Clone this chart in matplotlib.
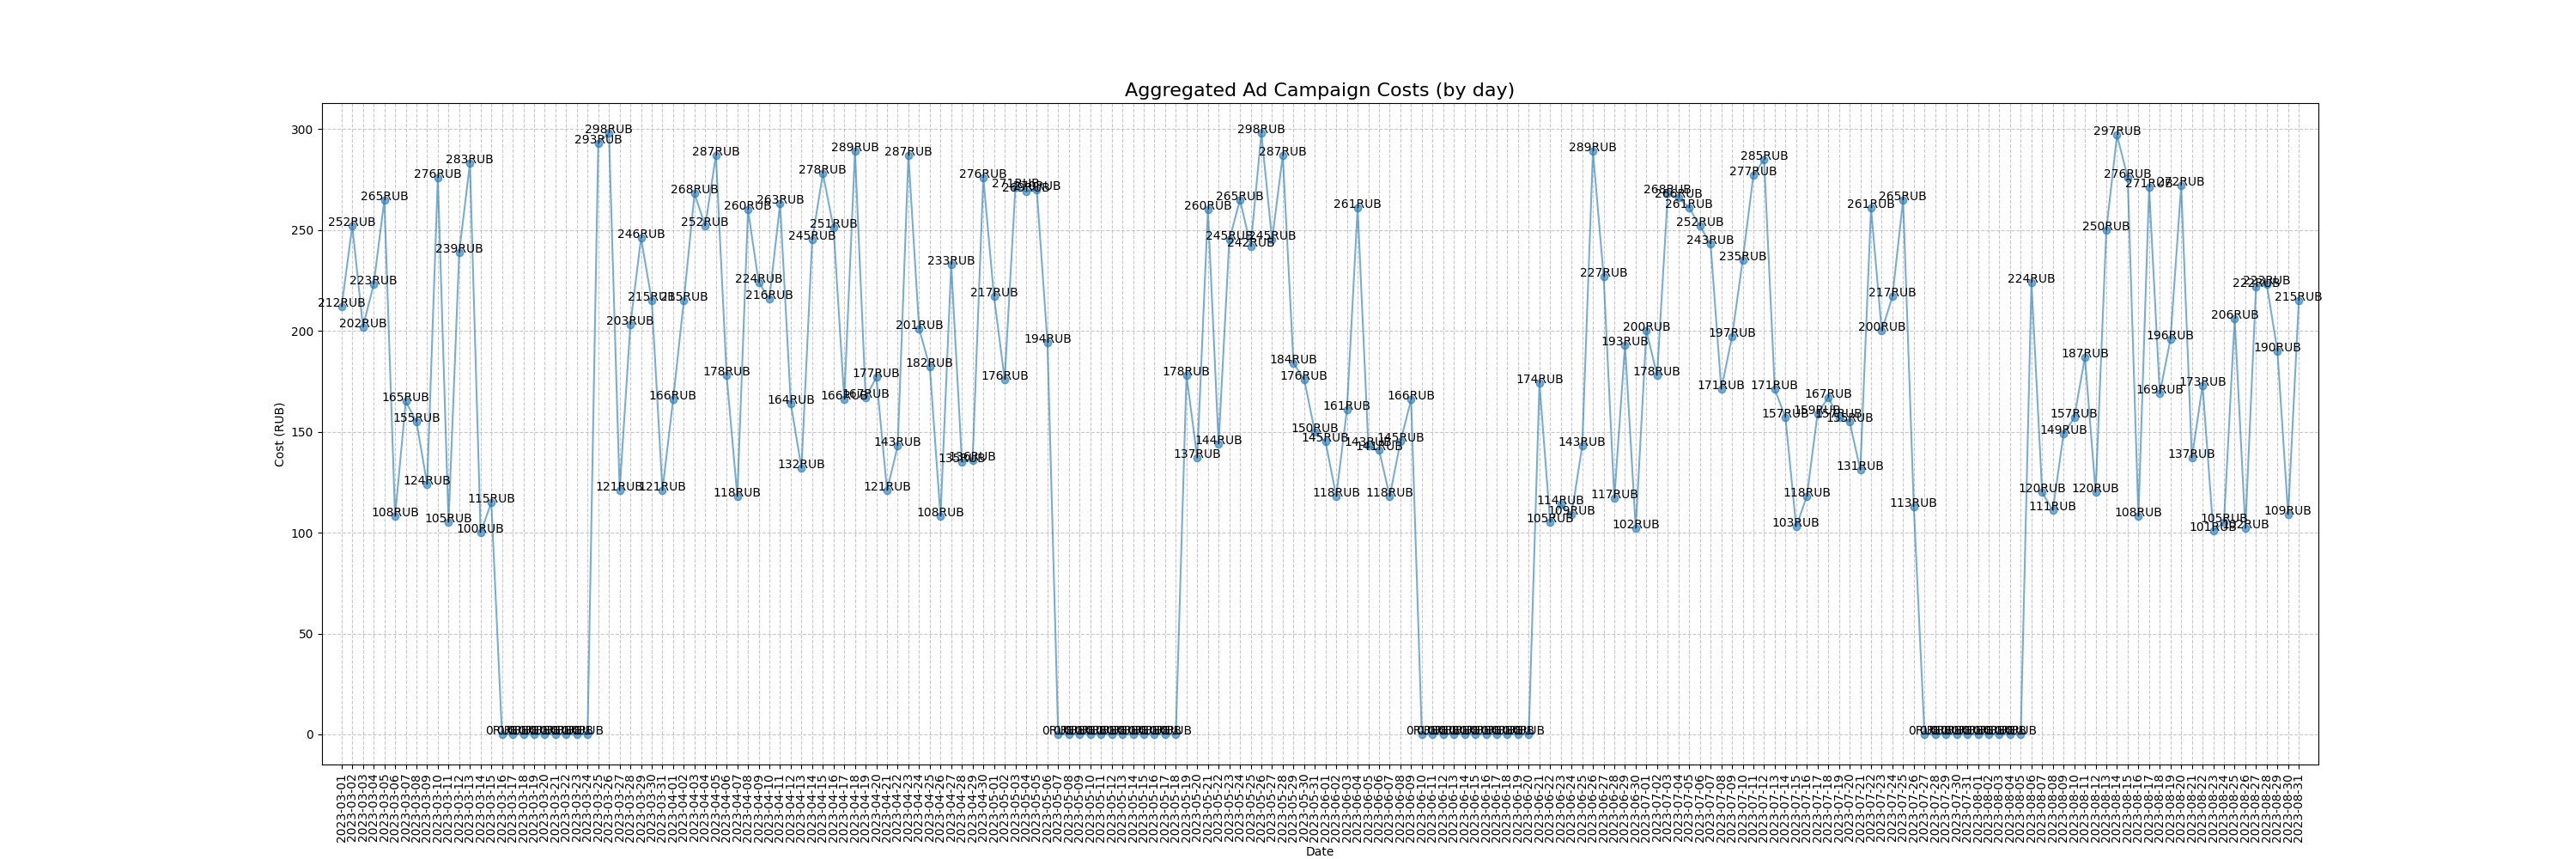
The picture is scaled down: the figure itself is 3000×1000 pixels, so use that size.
import pandas as pd
import matplotlib
matplotlib.use('Agg')
import matplotlib.pyplot as plt

# One value per day, 2023-03-01 .. 2023-08-31
dates = pd.date_range('2023-03-01', '2023-08-31', freq='D').strftime('%Y-%m-%d').tolist()

costs_march = [212, 252, 202, 223, 265, 108, 165, 155, 124, 276, 105, 239, 283, 100, 115,
               0, 0, 0, 0, 0, 0, 0, 0, 0,
               293, 298, 121, 203, 246, 215, 121]
costs_april = [166, 215, 268, 252, 287, 178, 118, 260, 224, 216, 263, 164, 132, 245, 278,
               251, 166, 289, 167, 177, 121, 143, 287, 201, 182, 108, 233, 135, 136, 276]
costs_may = [217, 176, 271, 269, 270, 194,
             0, 0, 0, 0, 0, 0, 0, 0, 0, 0, 0, 0,
             178, 137, 260, 144, 245, 265, 242, 298, 245, 287, 184, 176, 150]
costs_june = [145, 118, 161, 261, 143, 141, 118, 145, 166,
              0, 0, 0, 0, 0, 0, 0, 0, 0, 0, 0,
              174, 105, 114, 109, 143, 289, 227, 117, 193, 102]
costs_july = [200, 178, 268, 266, 261, 252, 243, 171, 197, 235, 277, 285, 171, 157, 103,
              118, 159, 167, 157, 155, 131, 261, 200, 217, 265, 113,
              0, 0, 0, 0, 0]
costs_august = [0, 0, 0, 0, 0,
                224, 120, 111, 149, 157, 187, 120, 250, 297, 276, 108, 271, 169, 196, 272,
                137, 173, 101, 105, 206, 102, 222, 223, 190, 109, 215]

costs = costs_march + costs_april + costs_may + costs_june + costs_july + costs_august

fig, ax = plt.subplots(figsize=(30, 10), dpi=100)

# line with markers
ax.plot(dates, costs, marker='o', linestyle='-', alpha=0.6)

# value labels over every point
for d, c in zip(dates, costs):
    ax.text(d, c, f'{c}RUB', ha='center', fontsize=10)

ax.margins(x=0.01)
ax.set_title('Aggregated Ad Campaign Costs (by day)', fontsize=16)
ax.set_xlabel('Date')
ax.set_ylabel('Cost (RUB)')
plt.xticks(rotation=90)
ax.grid(True, linestyle='--', alpha=0.7)

plt.savefig('out.png')
